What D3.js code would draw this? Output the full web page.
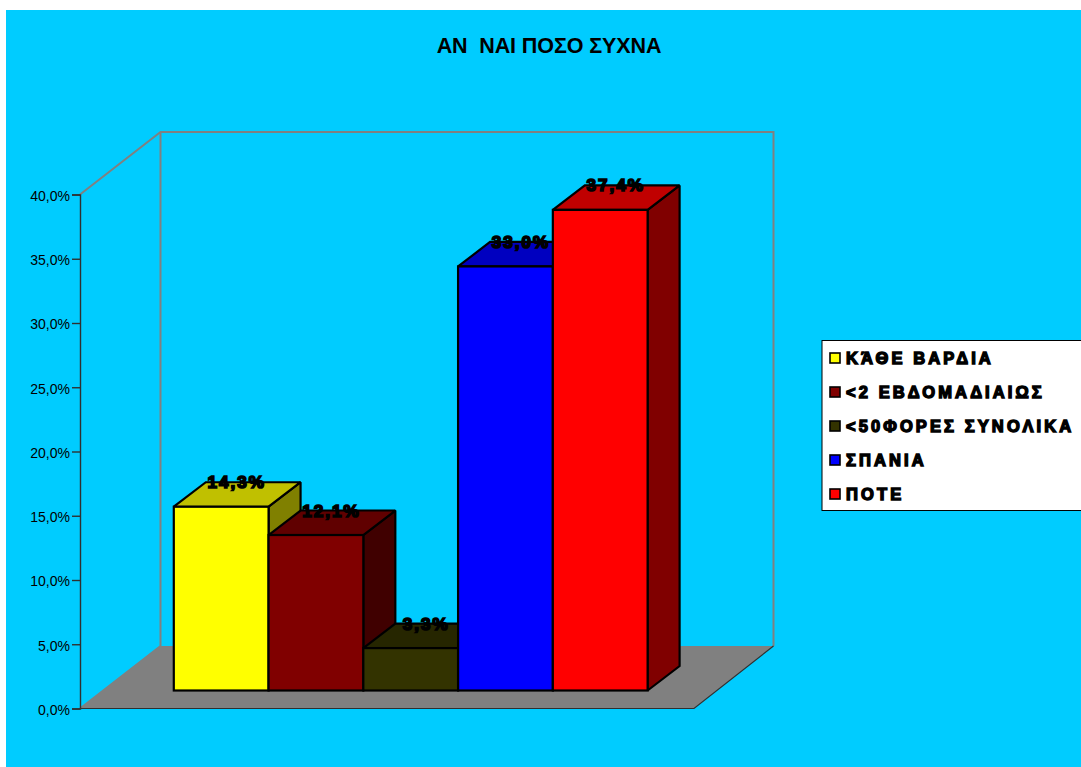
<!DOCTYPE html>
<html><head><meta charset="utf-8">
<script src="https://cdnjs.cloudflare.com/ajax/libs/d3/7.8.5/d3.min.js"></script>
<style>html,body{margin:0;padding:0;background:#fff;overflow:hidden}svg{display:block}text{font-family:"Liberation Sans",Arial,sans-serif}</style>
</head><body><div id="c"></div>
<script>
const titleText = "ΑΝ\u00a0 ΝΑΙ ΠΟΣΟ ΣΥΧΝΑ";
const categories = ["ΚΆΘΕ ΒΑΡΔΙΑ","<2 ΕΒΔΟΜΑΔΙΑΙΩΣ","<50ΦΟΡΕΣ ΣΥΝΟΛΙΚΑ","ΣΠΑΝΙΑ","ΠΟΤΕ"];
const values = [14.3,12.1,3.3,33.0,37.4];
const tickValues = [0,5,10,15,20,25,30,35,40];
const frontColors = ["#ffff00","#800000","#333300","#0000ff","#ff0000"];
const topColors = ["#c0c000","#600000","#262600","#0000c0","#c00000"];
const sideColors = ["#808000","#400000","#1a1a00","#000080","#800000"];

const fmt = v => d3.format(".1f")(v).replace(".",",") + "%";
const W=1081,H=767;
const svg=d3.select("#c").append("svg").attr("width",W).attr("height",H);
svg.append("rect").attr("x",6).attr("y",10).attr("width",W-6).attr("height",H-10).attr("fill","#00ccff");

const y=d3.scaleLinear().domain([0,40]).range([708.5,194.5]);
const x=d3.scaleBand().domain(categories).range([173.8,647.6]).paddingInner(0).paddingOuter(0);
const wallDx=80.5, wallDy=-62.5, floorW=614;
const barDx=32, barDy=-24.5, barBase=-18;
const x0=80;
const pts=a=>a.map(p=>p.join(",")).join(" ");

// floor and back wall
svg.append("polygon").attr("fill","#808080").attr("points",pts([[x0,y(0)],[x0+wallDx,y(0)+wallDy],[x0+wallDx+floorW-1,y(0)+wallDy],[x0+floorW,y(0)]]));
svg.append("path").attr("fill","none").attr("stroke","#808080").attr("stroke-width",2)
  .attr("d",`M${x0},${y(40)}L${x0+wallDx},${y(40)+wallDy}L${x0+wallDx+floorW-1},${y(40)+wallDy}L${x0+wallDx+floorW-1},${y(0)+wallDy}M${x0+wallDx},${y(40)+wallDy}L${x0+wallDx},${y(0)+wallDy}L${x0},${y(0)}`);
svg.append("path").attr("fill","none").attr("stroke","#303030").attr("stroke-width",1.2)
  .attr("d",`M${x0},${y(0)}L${x0+floorW},${y(0)}L${x0+wallDx+floorW-1},${y(0)+wallDy}`);

// axis
const ax=svg.append("g").attr("transform",`translate(${x0},0)`)
  .call(d3.axisLeft(y).tickValues(tickValues).tickSize(8).tickPadding(2).tickFormat(d=>fmt(d)));
ax.selectAll("path,line").attr("stroke","#303030").attr("stroke-width",1.4);
ax.selectAll("text").attr("font-size",14).attr("fill","#000").attr("dy","0.42em");

// bars
const bars=svg.selectAll("g.bar").data(categories).join("g").attr("class","bar")
  .attr("stroke","#000").attr("stroke-width",2.2).attr("stroke-linejoin","miter").attr("stroke-miterlimit",1.5);
bars.each(function(c,i){
  const g=d3.select(this), l=x(c), r=l+x.bandwidth(), b=y(0)+barBase, t=b-(y(0)-y(values[i]));
  g.append("polygon").attr("fill",sideColors[i]).attr("points",pts([[r,t],[r+barDx,t+barDy],[r+barDx,b+barDy],[r,b]]));
  g.append("polygon").attr("fill",topColors[i]).attr("points",pts([[l,t],[l+barDx,t+barDy],[r+barDx,t+barDy],[r,t]]));
  g.append("rect").attr("x",l).attr("y",t).attr("width",r-l).attr("height",b-t).attr("fill",frontColors[i]);
});
// value labels
svg.selectAll("text.val").data(categories).join("text").attr("class","val")
  .attr("x",c=>x(c)+x.bandwidth()/2+barDx/2-0.5)
  .attr("y",(c,i)=>y(0)+barBase-(y(0)-y(values[i]))+barDy+6)
  .attr("text-anchor","middle").attr("font-size",17).attr("font-weight","bold")
  .attr("stroke","#000").attr("stroke-width",1.7).attr("letter-spacing",2).attr("fill","#000")
  .text((c,i)=>fmt(values[i]));

// title
svg.append("text").attr("x",549).attr("y",53).attr("text-anchor","middle")
  .attr("font-size",21.5).attr("font-weight","bold").attr("letter-spacing",-0.1).attr("fill","#000").text(titleText);

// legend
svg.append("rect").attr("x",822).attr("y",340.5).attr("width",262).attr("height",170).attr("fill","#fff").attr("stroke","#000").attr("stroke-width",1);
const ly=d3.scalePoint().domain(categories).range([358,494]);
const lg=svg.selectAll("g.leg").data(categories).join("g").attr("class","leg").attr("transform",c=>`translate(0,${ly(c)})`);
lg.append("rect").attr("x",830).attr("y",-5).attr("width",10).attr("height",10).attr("fill",(c,i)=>frontColors[i]).attr("stroke","#000").attr("stroke-width",1.6);
lg.append("text").attr("x",846).attr("y",6).attr("font-size",16.5).attr("font-weight","bold").attr("letter-spacing",3.1)
  .attr("stroke","#000").attr("stroke-width",1.4).attr("fill","#000").text(c=>c);
</script></body></html>
